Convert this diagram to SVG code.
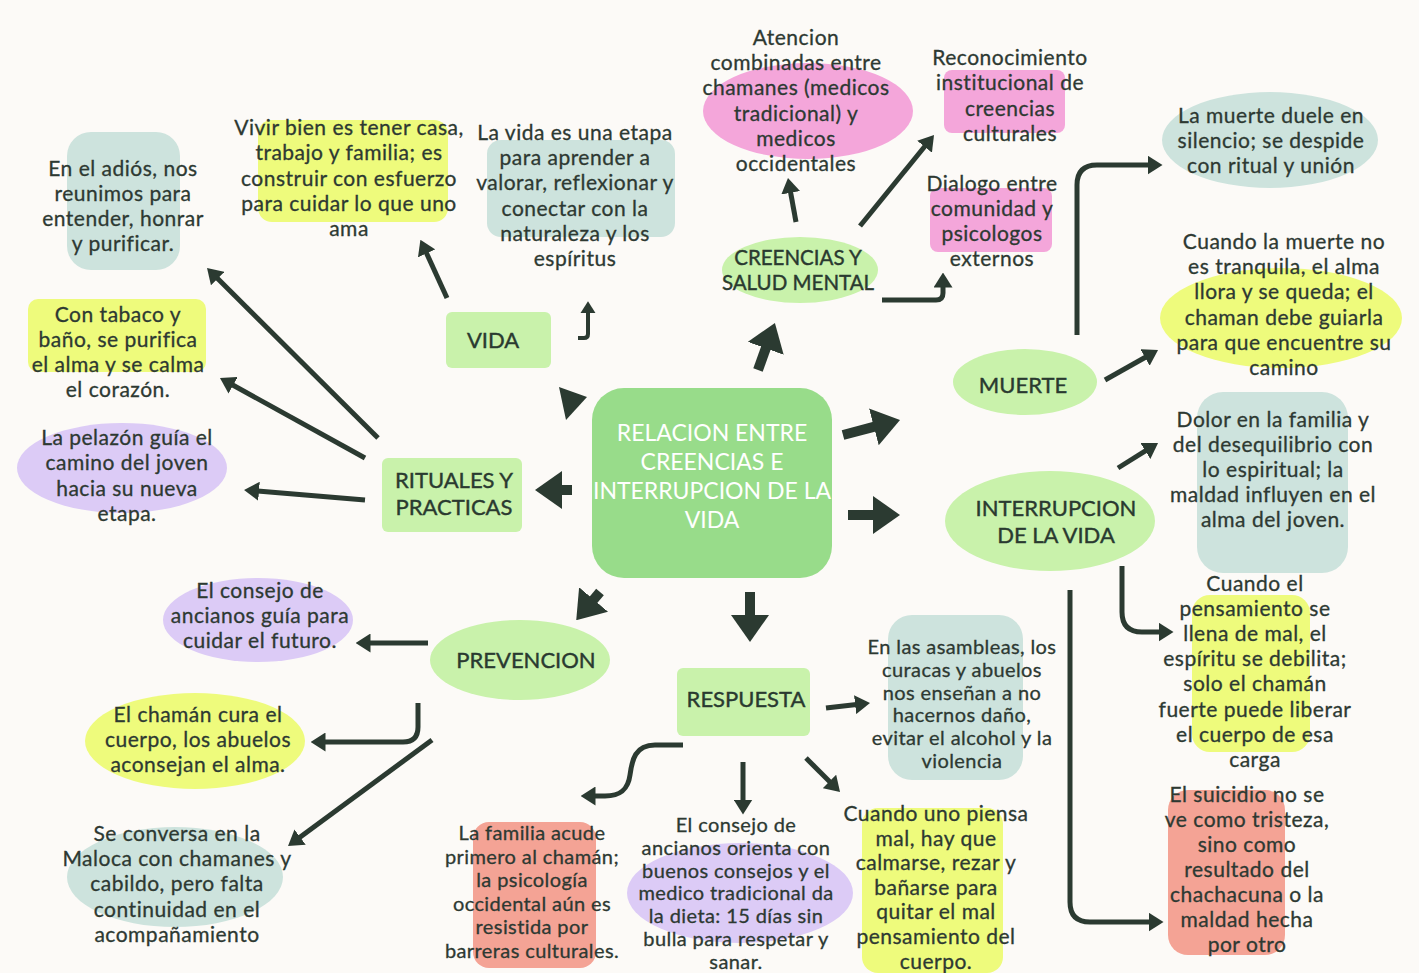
<svg xmlns="http://www.w3.org/2000/svg" width="1419" height="973" viewBox="0 0 1419 973">
<style>
.t{font-family:Lato,"Liberation Sans",sans-serif;font-size:21px;letter-spacing:0.5px;fill:#2d3932;stroke:#2d3932;stroke-width:0.3px;text-anchor:middle}
.t2{font-family:Lato,"Liberation Sans",sans-serif;font-size:20px;letter-spacing:0.4px;fill:#2d3932;stroke:#2d3932;stroke-width:0.3px;text-anchor:middle}
.n{font-family:Lato,"Liberation Sans",sans-serif;font-size:22px;fill:#2a3a30;stroke:#2a3a30;stroke-width:0.4px;text-anchor:middle}
.c{font-family:Lato,"Liberation Sans",sans-serif;font-size:23px;fill:#ffffff;text-anchor:middle}
.gn{fill:#c9f2ab}
.teal{fill:#cde3dd}
.yel{fill:#eefb7c}
.pink{fill:#f4a6da}
.pur{fill:#dccbf6}
.sal{fill:#f4a395}
.s{fill:none;stroke:#2b3a31;stroke-width:5;marker-end:url(#a)}
.b{fill:none;stroke:#2b3a31;stroke-width:10;marker-end:url(#b)}
</style>
<defs>
<marker id="a" viewBox="0 0 10 10" refX="1" refY="5" markerWidth="3" markerHeight="3.8" preserveAspectRatio="none" orient="auto"><path d="M0,0 L10,5 L0,10 z" fill="#2b3a31"/></marker>
<marker id="b" viewBox="0 0 10 10" refX="1" refY="5" markerWidth="2.7" markerHeight="3.8" preserveAspectRatio="none" orient="auto"><path d="M0,0 L10,5 L0,10 z" fill="#2b3a31"/></marker>
</defs>
<rect width="1419" height="973" fill="#fcfaf7"/>

<g id="connectors">
<path class="b" d="M758,370 L766.7,345.8"/>
<path class="b" d="M843,435 L876.5,426.2"/>
<path class="b" d="M848,515 L875.7,515"/>
<path class="b" d="M572,490 L559.3,490"/>
<path class="b" d="M600,592 L591.9,601.6"/>
<path class="b" d="M750,592 L750,617.7"/>
<polygon points="559,387 587,397 566,420" fill="#2b3a31"/>
<path class="s" d="M447,298 L426,252"/>
<path class="s" style="stroke-width:4" d="M578,338 L584,338 Q588,338 588,334 L588,312"/>
<path class="s" d="M378,438 L216.6,277.5"/>
<path class="s" d="M365,458 L231.8,384.5"/>
<path class="s" d="M365,500 L257.5,491.1"/>
<path class="s" d="M796,222 L790.4,191.3"/>
<path class="s" d="M860,226 L925.5,145.5"/>
<path class="s" d="M882,300 L936,300 Q943,300 943,293 L943,286"/>
<path class="s" d="M1077,335 L1077,185 Q1077,165 1097,165 L1149,165"/>
<path class="s" d="M1105,380 L1146.3,356.7"/>
<path class="s" d="M1118,468 L1146.6,450.2"/>
<path class="s" d="M1122,566 L1122,612 Q1122,632 1142,632 L1160,632"/>
<path class="s" d="M1070,590 L1070,902 Q1070,922 1090,922 L1150,922"/>
<path class="s" d="M428,643 L369,643"/>
<path class="s" d="M418,703 L418,727 Q418,742 403,742 L324,742"/>
<path class="s" d="M432,740 L298.9,838"/>
<path class="s" d="M826,708 L856.6,704.5"/>
<path class="s" d="M683,745 L655,745 C635,745 632,760 630,775 C628,790 620,796 605,796 L594,796"/>
<path class="s" d="M743,762 L743,801"/>
<path class="s" d="M806,758 L830.5,782.5"/>
</g>

<g id="center">
<rect x="592" y="388" width="240" height="190" rx="32" fill="#98dc8a"/>
<text class="c" x="712" y="441"><tspan x="712">RELACION ENTRE</tspan><tspan x="712" dy="29">CREENCIAS E</tspan><tspan x="712" dy="29">INTERRUPCION DE LA</tspan><tspan x="712" dy="29">VIDA</tspan></text>
</g>

<g id="vida">
<rect class="gn" x="446" y="312" width="105" height="56" rx="6"/>
<text class="n" x="493" y="348">VIDA</text>
</g>

<g id="rituales">
<rect class="gn" x="382" y="458" width="140" height="74" rx="6"/>
<text class="n" x="454" y="488"><tspan x="454">RITUALES Y</tspan><tspan x="454" dy="27">PRACTICAS</tspan></text>
</g>

<g id="creencias">
<ellipse class="gn" cx="800" cy="270" rx="78" ry="33"/>
<text class="n" style="font-size:20.5px" x="798" y="265"><tspan x="798">CREENCIAS Y</tspan><tspan x="798" dy="25">SALUD MENTAL</tspan></text>
</g>

<g id="muerte">
<ellipse class="gn" cx="1025" cy="382" rx="72" ry="33"/>
<text class="n" x="1023" y="393">MUERTE</text>
</g>

<g id="interrupcion">
<ellipse class="gn" cx="1050" cy="521" rx="105" ry="50"/>
<text class="n" x="1056" y="516"><tspan x="1056">INTERRUPCION</tspan><tspan x="1056" dy="27">DE LA VIDA</tspan></text>
</g>

<g id="prevencion">
<ellipse class="gn" cx="520" cy="660" rx="90" ry="40"/>
<text class="n" x="526" y="668">PREVENCION</text>
</g>

<g id="respuesta">
<rect class="gn" x="677" y="668" width="133" height="68" rx="6"/>
<text class="n" x="746" y="707">RESPUESTA</text>
</g>

<g id="leaf-adios">
<rect class="teal" x="67" y="132" width="113" height="138" rx="24"/>
<text class="t" x="123" y="176"><tspan x="123">En el adiós, nos</tspan><tspan x="123" dy="25">reunimos para</tspan><tspan x="123" dy="25">entender, honrar</tspan><tspan x="123" dy="25">y purificar.</tspan></text>
</g>

<g id="leaf-vivir">
<rect class="yel" x="258" y="120" width="190" height="102" rx="14"/>
<text class="t" x="349" y="135"><tspan x="349">Vivir bien es tener casa,</tspan><tspan x="349" dy="25.3">trabajo y familia; es</tspan><tspan x="349" dy="25.3">construir con esfuerzo</tspan><tspan x="349" dy="25.3">para cuidar lo que uno</tspan><tspan x="349" dy="25.3">ama</tspan></text>
</g>

<g id="leaf-vida-etapa">
<rect class="teal" x="487" y="140" width="188" height="97" rx="14"/>
<text class="t" x="575" y="140"><tspan x="575">La vida es una etapa</tspan><tspan x="575" dy="25.2">para aprender a</tspan><tspan x="575" dy="25.2">valorar, reflexionar y</tspan><tspan x="575" dy="25.2">conectar con la</tspan><tspan x="575" dy="25.2">naturaleza y los</tspan><tspan x="575" dy="25.2">espíritus</tspan></text>
</g>

<g id="leaf-atencion">
<ellipse class="pink" cx="808" cy="111" rx="105" ry="48"/>
<text class="t" x="796" y="45"><tspan x="796">Atencion</tspan><tspan x="796" dy="25.2">combinadas entre</tspan><tspan x="796" dy="25.2">chamanes (medicos</tspan><tspan x="796" dy="25.2">tradicional) y</tspan><tspan x="796" dy="25.2">medicos</tspan><tspan x="796" dy="25.2">occidentales</tspan></text>
</g>

<g id="leaf-reconocimiento">
<rect class="pink" x="944" y="70" width="121" height="63" rx="8"/>
<text class="t" x="1010" y="65"><tspan x="1010">Reconocimiento</tspan><tspan x="1010" dy="25.3">institucional de</tspan><tspan x="1010" dy="25.3">creencias</tspan><tspan x="1010" dy="25.3">culturales</tspan></text>
</g>

<g id="leaf-dialogo">
<rect class="pink" x="930" y="188" width="122" height="64" rx="8"/>
<text class="t" x="992" y="191"><tspan x="992">Dialogo entre</tspan><tspan x="992" dy="25">comunidad y</tspan><tspan x="992" dy="25">psicologos</tspan><tspan x="992" dy="25">externos</tspan></text>
</g>

<g id="leaf-muerte-duele">
<ellipse class="teal" cx="1270" cy="140" rx="108" ry="48"/>
<text class="t" x="1271" y="123"><tspan x="1271">La muerte duele en</tspan><tspan x="1271" dy="25">silencio; se despide</tspan><tspan x="1271" dy="25">con ritual y unión</tspan></text>
</g>

<g id="leaf-muerte-no-tranquila">
<ellipse class="yel" cx="1281" cy="318" rx="121" ry="50"/>
<text class="t" x="1284" y="249"><tspan x="1284">Cuando la muerte no</tspan><tspan x="1284" dy="25.2">es tranquila, el alma</tspan><tspan x="1284" dy="25.2">llora y se queda; el</tspan><tspan x="1284" dy="25.2">chaman debe guiarla</tspan><tspan x="1284" dy="25.2">para que encuentre su</tspan><tspan x="1284" dy="25.2">camino</tspan></text>
</g>

<g id="leaf-tabaco">
<rect class="yel" x="28" y="299" width="178" height="73" rx="10"/>
<text class="t" x="118" y="322"><tspan x="118">Con tabaco y</tspan><tspan x="118" dy="25">baño, se purifica</tspan><tspan x="118" dy="25">el alma y se calma</tspan><tspan x="118" dy="25">el corazón.</tspan></text>
</g>

<g id="leaf-pelazon">
<ellipse class="pur" cx="122" cy="468" rx="105" ry="45"/>
<text class="t" x="127" y="445"><tspan x="127">La pelazón guía el</tspan><tspan x="127" dy="25.3">camino del joven</tspan><tspan x="127" dy="25.3">hacia su nueva</tspan><tspan x="127" dy="25.3">etapa.</tspan></text>
</g>

<g id="leaf-dolor">
<rect class="teal" x="1197" y="392" width="151" height="181" rx="26"/>
<text class="t" x="1273" y="427"><tspan x="1273">Dolor en la familia y</tspan><tspan x="1273" dy="25">del desequilibrio con</tspan><tspan x="1273" dy="25">lo espiritual; la</tspan><tspan x="1273" dy="25">maldad influyen en el</tspan><tspan x="1273" dy="25">alma del joven.</tspan></text>
</g>

<g id="leaf-pensamiento">
<rect class="yel" x="1192" y="595" width="118" height="157" rx="18"/>
<text class="t" x="1255" y="591"><tspan x="1255">Cuando el</tspan><tspan x="1255" dy="25.1">pensamiento se</tspan><tspan x="1255" dy="25.1">llena de mal, el</tspan><tspan x="1255" dy="25.1">espíritu se debilita;</tspan><tspan x="1255" dy="25.1">solo el chamán</tspan><tspan x="1255" dy="25.1">fuerte puede liberar</tspan><tspan x="1255" dy="25.1">el cuerpo de esa</tspan><tspan x="1255" dy="25.1">carga</tspan></text>
</g>

<g id="leaf-suicidio">
<rect class="sal" x="1168" y="790" width="117" height="165" rx="20"/>
<text class="t" x="1247" y="802"><tspan x="1247">El suicidio no se</tspan><tspan x="1247" dy="25">ve como tristeza,</tspan><tspan x="1247" dy="25">sino como</tspan><tspan x="1247" dy="25">resultado del</tspan><tspan x="1247" dy="25">chachacuna o la</tspan><tspan x="1247" dy="25">maldad hecha</tspan><tspan x="1247" dy="25">por otro</tspan></text>
</g>

<g id="leaf-consejo-futuro">
<ellipse class="pur" cx="258" cy="620" rx="95" ry="42"/>
<text class="t" x="260" y="598"><tspan x="260">El consejo de</tspan><tspan x="260" dy="25">ancianos guía para</tspan><tspan x="260" dy="25">cuidar el futuro.</tspan></text>
</g>

<g id="leaf-chaman-cura">
<ellipse class="yel" cx="195" cy="741" rx="110" ry="48"/>
<text class="t" x="198" y="722"><tspan x="198">El chamán cura el</tspan><tspan x="198" dy="25">cuerpo, los abuelos</tspan><tspan x="198" dy="25">aconsejan el alma.</tspan></text>
</g>

<g id="leaf-maloca">
<ellipse class="teal" cx="175" cy="877" rx="108" ry="50"/>
<text class="t" x="177" y="841"><tspan x="177">Se conversa en la</tspan><tspan x="177" dy="25.2">Maloca con chamanes y</tspan><tspan x="177" dy="25.2">cabildo, pero falta</tspan><tspan x="177" dy="25.2">continuidad en el</tspan><tspan x="177" dy="25.2">acompañamiento</tspan></text>
</g>

<g id="leaf-familia">
<rect class="sal" x="473" y="822" width="123" height="146" rx="16"/>
<text class="t2" x="532" y="840"><tspan x="532">La familia acude</tspan><tspan x="532" dy="23.6">primero al chamán;</tspan><tspan x="532" dy="23.6">la psicología</tspan><tspan x="532" dy="23.6">occidental aún es</tspan><tspan x="532" dy="23.6">resistida por</tspan><tspan x="532" dy="23.6">barreras culturales.</tspan></text>
</g>

<g id="leaf-consejo-dieta">
<ellipse class="pur" cx="740" cy="893" rx="113" ry="50"/>
<text class="t2" x="736" y="832"><tspan x="736">El consejo de</tspan><tspan x="736" dy="22.8">ancianos orienta con</tspan><tspan x="736" dy="22.8">buenos consejos y el</tspan><tspan x="736" dy="22.8">medico tradicional da</tspan><tspan x="736" dy="22.8">la dieta: 15 días sin</tspan><tspan x="736" dy="22.8">bulla para respetar y</tspan><tspan x="736" dy="22.8">sanar.</tspan></text>
</g>

<g id="leaf-asambleas">
<rect class="teal" x="888" y="615" width="135" height="165" rx="24"/>
<text class="t2" x="962" y="654"><tspan x="962">En las asambleas, los</tspan><tspan x="962" dy="22.8">curacas y abuelos</tspan><tspan x="962" dy="22.8">nos enseñan a no</tspan><tspan x="962" dy="22.8">hacernos daño,</tspan><tspan x="962" dy="22.8">evitar el alcohol y la</tspan><tspan x="962" dy="22.8">violencia</tspan></text>
</g>

<g id="leaf-piensa-mal">
<rect class="yel" x="862" y="808" width="141" height="165" rx="16"/>
<text class="t" x="936" y="821"><tspan x="936">Cuando uno piensa</tspan><tspan x="936" dy="24.6">mal, hay que</tspan><tspan x="936" dy="24.6">calmarse, rezar y</tspan><tspan x="936" dy="24.6">bañarse para</tspan><tspan x="936" dy="24.6">quitar el mal</tspan><tspan x="936" dy="24.6">pensamiento del</tspan><tspan x="936" dy="24.6">cuerpo.</tspan></text>
</g>
</svg>
